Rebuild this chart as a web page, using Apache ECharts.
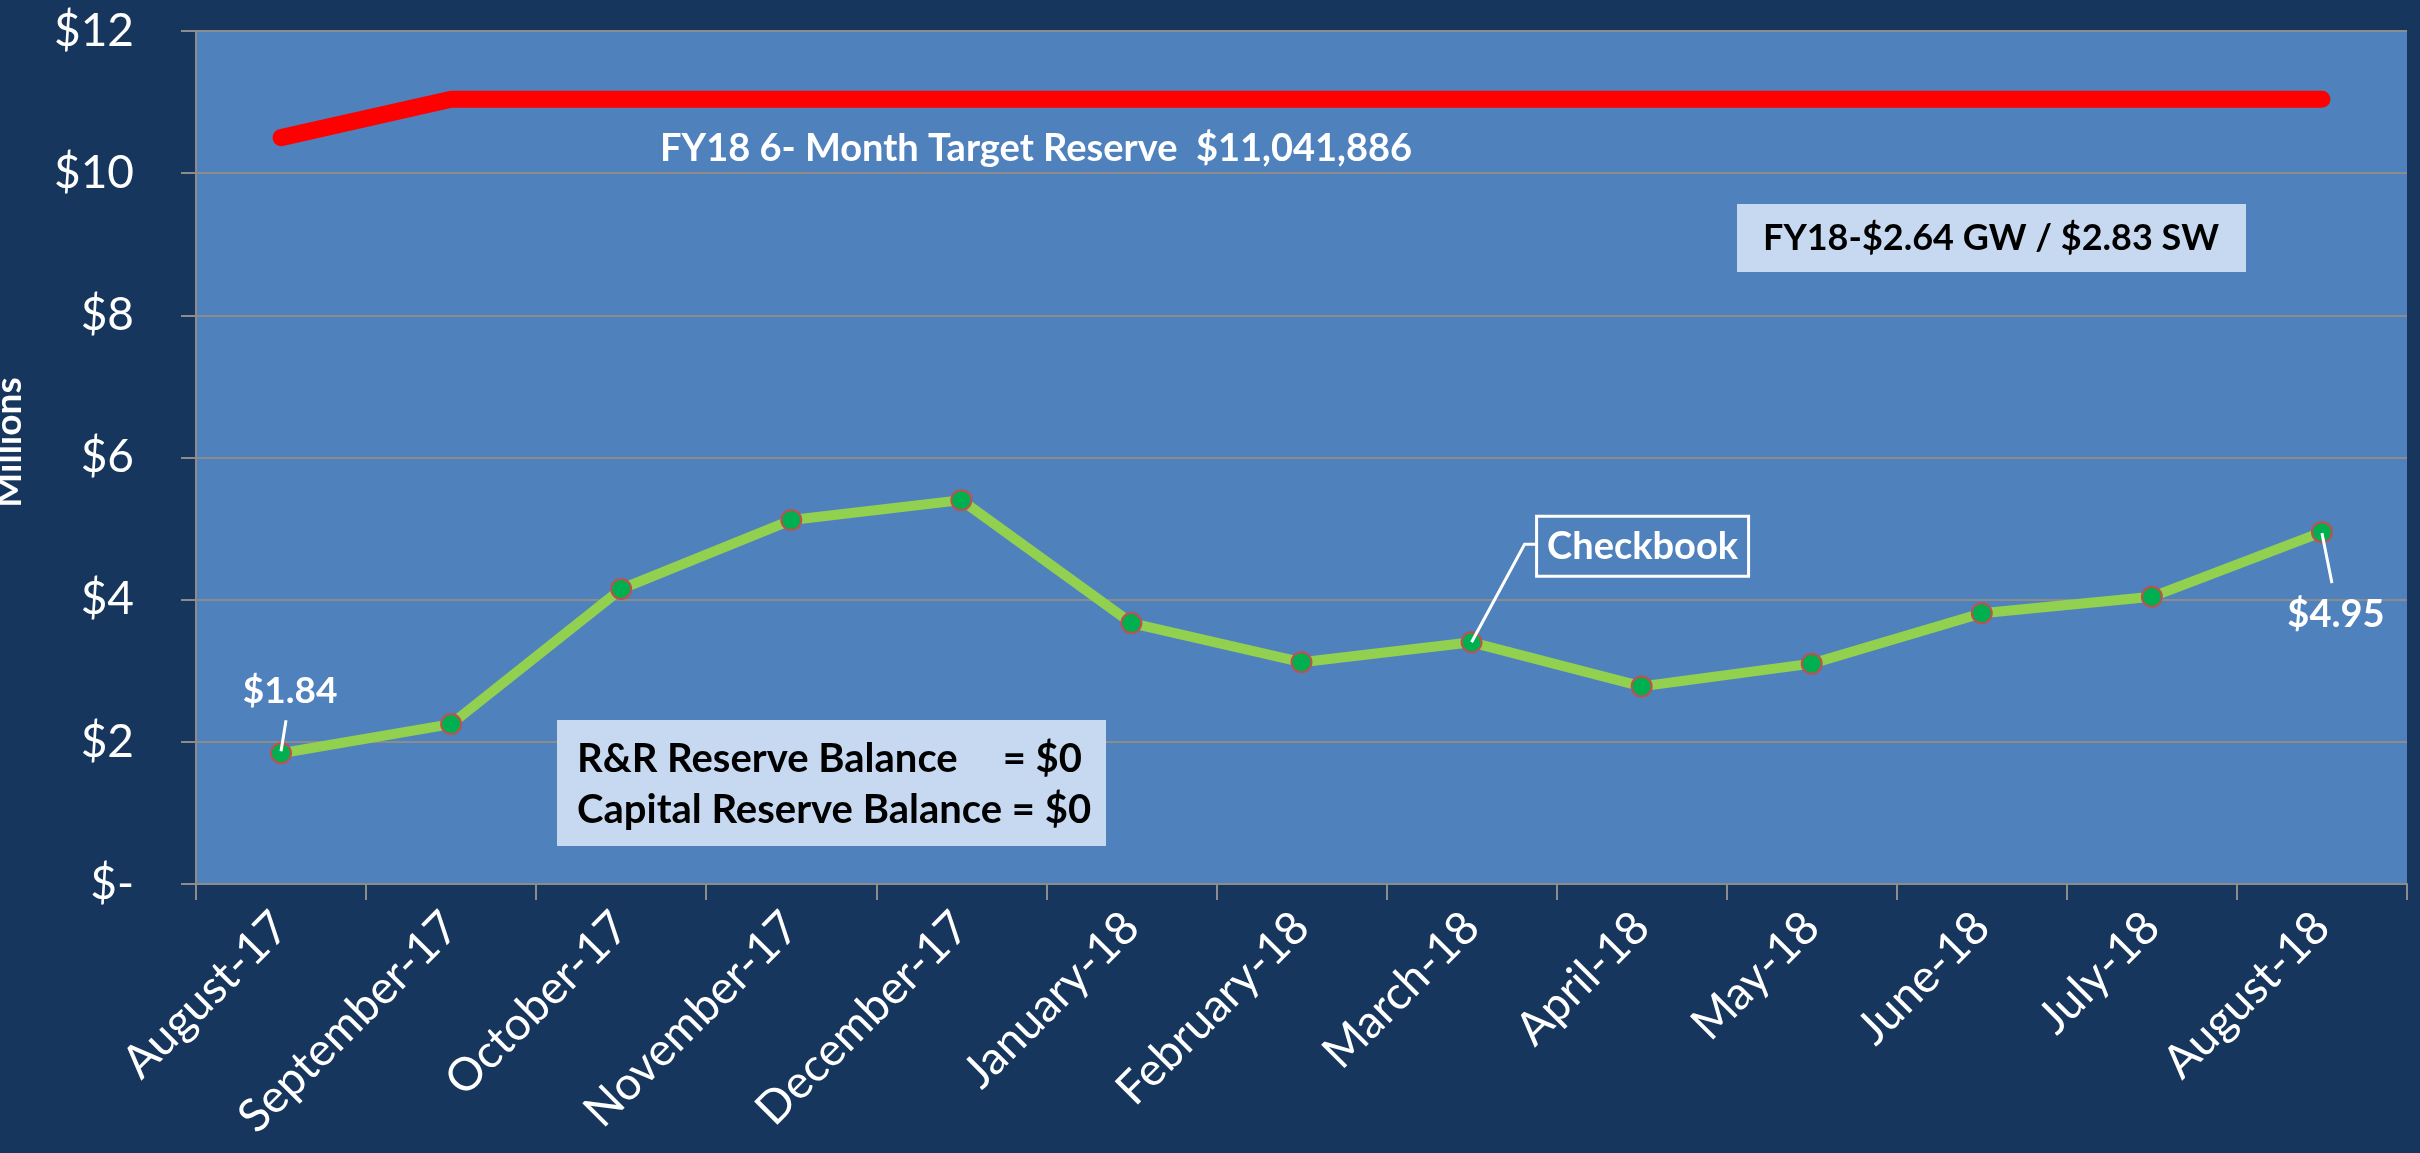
<!DOCTYPE html>
<html><head><meta charset="utf-8">
<script src="https://cdn.jsdelivr.net/npm/echarts@6/dist/echarts.min.js"></script>
<style>html,body{margin:0;padding:0;background:#17365D;overflow:hidden}#c{width:2420px;height:1153px;}</style>
</head><body><div id="c"></div>
<script>
const categories = ['August-17','September-17','October-17','November-17','December-17','January-18','February-18','March-18','April-18','May-18','June-18','July-18','August-18'];
const targetReserve = [10.5, 11.04, 11.04, 11.04, 11.04, 11.04, 11.04, 11.04, 11.04, 11.04, 11.04, 11.04, 11.04];
const checkbook = [1.84, 2.25, 4.15, 5.12, 5.40, 3.67, 3.12, 3.40, 2.78, 3.10, 3.81, 4.04, 4.95];
const yTickLabels = ['$-', '$2', '$4', '$6', '$8', '$10', '$12'];
const targetText = 'FY18 6- Month Target Reserve  $11,041,886';
const rateText = 'FY18-$2.64 GW / $2.83 SW';
const reserveLine1 = ['R&R Reserve Balance', '= $0'];
const reserveLine2 = 'Capital Reserve Balance = $0';
const firstLabel = '$1.84';
const lastLabel = '$4.95';
const checkbookLabel = 'Checkbook';

const FONT = 'Lato';
const chart = echarts.init(document.getElementById('c'), null, {renderer: 'canvas'});
const option = {
  backgroundColor: '#17365D',
  animation: false,
  textStyle: {fontFamily: FONT},
  grid: {left: 196, right: 13, top: 31, bottom: 269, show: true, backgroundColor: '#4F81BD', borderWidth: 0,
         containLabel: false, outerBoundsMode: 'none'},
  xAxis: {
    type: 'category', data: categories, boundaryGap: true,
    axisLine: {show: true, lineStyle: {color: '#8C8C8C', width: 2}},
    axisTick: {show: true, length: 16, lineStyle: {color: '#8C8C8C', width: 2}},
    axisLabel: {rotate: 45, margin: 36, color: '#fff', fontSize: 46, fontFamily: FONT, interval: 0},
    splitLine: {show: false}
  },
  yAxis: {
    type: 'value', min: 0, max: 12, interval: 2,
    name: 'Millions', nameLocation: 'middle', nameRotate: 90, nameGap: 168,
    nameTextStyle: {color: '#fff', fontSize: 37, fontWeight: 'bold', fontFamily: FONT, padding: [0, 0, 0, 30]},
    axisLine: {show: true, lineStyle: {color: '#8C8C8C', width: 2}},
    axisTick: {show: true, length: 15, lineStyle: {color: '#8C8C8C', width: 2}},
    axisLabel: {color: '#fff', fontSize: 46, margin: 62, fontFamily: FONT, formatter: v => yTickLabels[Math.round(v / 2)]},
    splitLine: {show: true, lineStyle: {color: '#8C8C8C', width: 2}}
  },
  series: [
    {name: 'Target Reserve', type: 'line', data: targetReserve, symbol: 'none',
     lineStyle: {color: '#FF0000', width: 17, cap: 'round', join: 'round'}, z: 3},
    {name: 'Checkbook', type: 'line', data: checkbook, symbol: 'circle', symbolSize: 20,
     itemStyle: {color: '#00B050', borderColor: '#C0504D', borderWidth: 2},
     lineStyle: {color: '#92D050', width: 10}, z: 4}
  ]
};
chart.setOption(option);

function px(i, v) { return chart.convertToPixel({gridIndex: 0}, [i, v]); }
const n = checkbook.length;
const p0 = px(0, checkbook[0]);
const pL = px(n - 1, checkbook[n - 1]);
const pM = px(7, checkbook[7]);
const W = '#FFFFFF';
const lineSt = {stroke: W, lineWidth: 3};

const graphic = [
  {type: 'text', z: 100, style: {text: targetText, x: 660, y: 149, fill: W, font: 'bold 38px Lato', textAlign: 'left', textVerticalAlign: 'middle'}},
  {type: 'rect', z: 100, shape: {x: 1737, y: 204, width: 509, height: 68}, style: {fill: '#C6D9F1'}},
  {type: 'text', z: 101, style: {text: rateText, x: 1991, y: 238, fill: '#000', font: 'bold 36px Lato', textAlign: 'center', textVerticalAlign: 'middle'}},
  {type: 'rect', z: 100, shape: {x: 557, y: 720, width: 549, height: 126}, style: {fill: '#C6D9F1'}},
  {type: 'text', z: 101, style: {text: reserveLine1[0], x: 577, y: 759, fill: '#000', font: 'bold 40px Lato', textAlign: 'left', textVerticalAlign: 'middle'}},
  {type: 'text', z: 101, style: {text: reserveLine1[1], x: 1082, y: 759, fill: '#000', font: 'bold 40px Lato', textAlign: 'right', textVerticalAlign: 'middle'}},
  {type: 'text', z: 101, style: {text: reserveLine2, x: 577, y: 810, fill: '#000', font: 'bold 40px Lato', textAlign: 'left', textVerticalAlign: 'middle'}},
  {type: 'line', z: 100, shape: {x1: p0[0] + 5, y1: p0[1] - 33, x2: p0[0], y2: p0[1] - 2}, style: lineSt},
  {type: 'text', z: 100, style: {text: firstLabel, x: p0[0] + 9, y: p0[1] - 62, fill: W, font: 'bold 37px Lato', textAlign: 'center', textVerticalAlign: 'middle'}},
  {type: 'line', z: 100, shape: {x1: pL[0], y1: pL[1] + 1, x2: pL[0] + 10, y2: pL[1] + 51}, style: lineSt},
  {type: 'text', z: 100, style: {text: lastLabel, x: pL[0] + 14, y: pL[1] + 83, fill: W, font: 'bold 38px Lato', textAlign: 'center', textVerticalAlign: 'middle'}},
  {type: 'polyline', z: 100, shape: {points: [[pM[0], pM[1]], [pM[0] + 53, pM[1] - 98], [pM[0] + 65, pM[1] - 98]]}, style: {stroke: W, lineWidth: 3, fill: null}},
  {type: 'rect', z: 100, shape: {x: pM[0] + 65, y: pM[1] - 126, width: 212, height: 60}, style: {fill: null, stroke: W, lineWidth: 3}},
  {type: 'text', z: 101, style: {text: checkbookLabel, x: pM[0] + 171, y: pM[1] - 96, fill: W, font: 'bold 38px Lato', textAlign: 'center', textVerticalAlign: 'middle'}}
];
chart.setOption({graphic: graphic});
</script>
</body></html>
